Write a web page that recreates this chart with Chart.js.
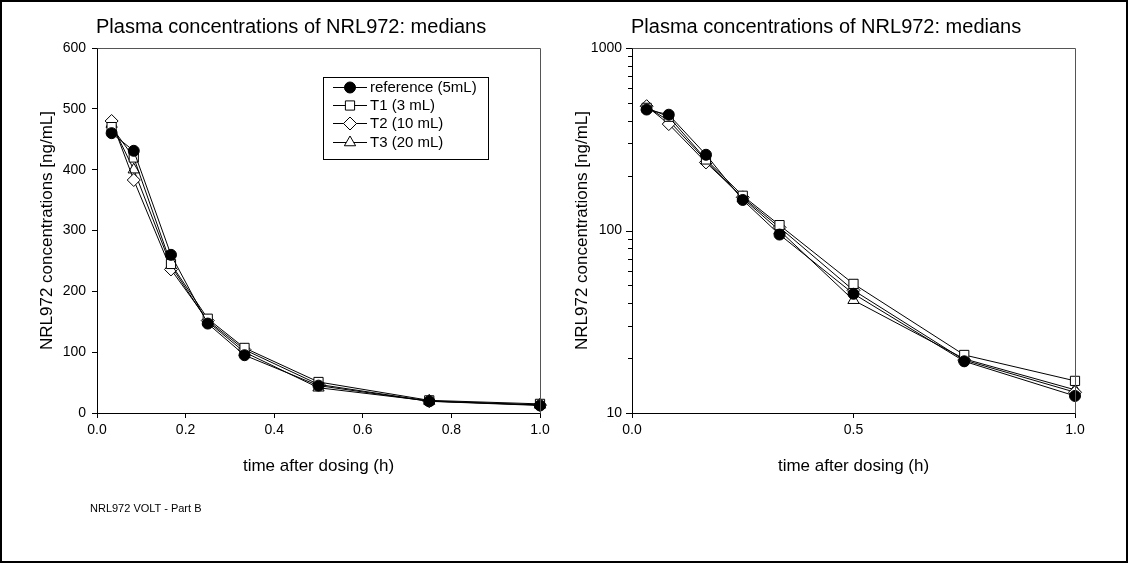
<!DOCTYPE html>
<html>
<head>
<meta charset="utf-8">
<script src="https://cdn.jsdelivr.net/npm/chart.js@4.4.1/dist/chart.umd.min.js"></script>
<style>
  html, body { margin:0; padding:0; background:#fff; }
  #wrap { position:relative; width:1128px; height:563px; overflow:hidden; background:#fff; }
  canvas { position:absolute; top:0; }
  #c1 { left:0; }
  #c2 { left:564px; }
  #frame { position:absolute; left:0; top:0; width:1128px; height:563px; box-sizing:border-box; border:2px solid #000; pointer-events:none; }
  #note { position:absolute; left:90px; top:502px; font:11px "Liberation Sans", Arial, sans-serif; color:#000; line-height:13px; white-space:nowrap; }
</style>
</head>
<body>
<div id="wrap">
  <canvas id="c1" width="564" height="563"></canvas>
  <canvas id="c2" width="564" height="563"></canvas>
  <div id="note">NRL972 VOLT - Part B</div>
  <div id="frame"></div>
</div>
<script>
// ---- data ----
const chartTitle = "Plasma concentrations of NRL972: medians";
const xTitle = "time after dosing (h)";
const yTitle = "NRL972 concentrations [ng/mL]";
const times = [0.033, 0.083, 0.167, 0.25, 0.333, 0.5, 0.75, 1.0];
const seriesNames = ["reference (5mL)", "T1 (3 mL)", "T2 (10 mL)", "T3 (20 mL)"];
const refValues = [460, 431, 260, 147, 95, 45, 19.2, 12.4];
const t1Values  = [470, 420, 245, 155, 107, 51, 20.8, 15.0];
const t2Values  = [480, 383, 236, 152, 104, 47, 19.5, 13.0];
const t3Values  = [475, 400, 242, 150, 100, 41.5, 19.8, 13.4];
const linearYTicks = [0, 100, 200, 300, 400, 500, 600];
const linearXTicks = [0, 0.2, 0.4, 0.6, 0.8, 1.0];
const logXTicks = [0, 0.5, 1.0];
const logYMajor = [10, 100, 1000];
const logYMinor = [20, 30, 40, 50, 60, 70, 80, 90, 200, 300, 400, 500, 600, 700, 800, 900];

const FONT = '"Liberation Sans", Arial, sans-serif';
const markerStyles = [
  { pointStyle: 'circle', radius: 5.5, bg: '#000' },
  { pointStyle: 'rect', radius: 6.5, bg: '#fff' },
  { pointStyle: 'rectRot', radius: 6.5, bg: '#fff' },
  { pointStyle: 'triangle', radius: 6.5, bg: '#fff' }
];
const allValues = [refValues, t1Values, t2Values, t3Values];

function buildDatasets() {
  return allValues.map((vals, i) => ({
    label: seriesNames[i],
    data: times.map((t, k) => ({ x: t, y: vals[k] })),
    borderColor: '#000',
    borderWidth: 1,
    backgroundColor: markerStyles[i].bg,
    pointStyle: markerStyles[i].pointStyle,
    pointRadius: markerStyles[i].radius,
    pointBorderColor: '#000',
    pointBackgroundColor: markerStyles[i].bg,
    pointBorderWidth: 1,
    tension: 0,
    fill: false,
    clip: false
  }));
}

const decorPlugin = {
  id: 'decor',
  afterDraw(chart, args, opts) {
    const ctx = chart.ctx, a = chart.chartArea;
    ctx.save();
    // frame top/right
    ctx.strokeStyle = '#555';
    ctx.lineWidth = 1;
    ctx.beginPath();
    ctx.moveTo(Math.round(a.left) + 0.5, Math.round(a.top) + 0.5);
    ctx.lineTo(Math.round(a.right) + 0.5, Math.round(a.top) + 0.5);
    ctx.lineTo(Math.round(a.right) + 0.5, Math.round(a.bottom) + 0.5);
    ctx.stroke();
    // title
    ctx.fillStyle = '#000';
    ctx.font = '20px ' + FONT;
    ctx.textAlign = 'left';
    ctx.textBaseline = 'middle';
    ctx.fillText(chartTitle, a.left - 1, 27);
    // axis titles
    ctx.font = '17px ' + FONT;
    ctx.textAlign = 'center';
    ctx.fillText(xTitle, (a.left + a.right) / 2, 466);
    ctx.save();
    ctx.translate(a.left - opts.yTitleOffset, (a.top + a.bottom) / 2);
    ctx.rotate(-Math.PI / 2);
    ctx.fillText(yTitle, 0, 0);
    ctx.restore();
    // log minor/major ticks
    if (opts.logTicks) {
      const ys = chart.scales.y;
      ctx.strokeStyle = '#000';
      ctx.beginPath();
      logYMajor.forEach(v => {
        const py = Math.round(ys.getPixelForValue(v)) + 0.5;
        ctx.moveTo(a.left - 6, py); ctx.lineTo(a.left, py);
      });
      logYMinor.forEach(v => {
        const py = Math.round(ys.getPixelForValue(v)) + 0.5;
        ctx.moveTo(a.left - 4, py); ctx.lineTo(a.left, py);
      });
      ctx.stroke();
    }
    // legend
    if (opts.legend) {
      const bx = 323.5, by = 77.5, bw = 165, bh = 82;
      ctx.strokeStyle = '#000';
      ctx.lineWidth = 1;
      ctx.strokeRect(bx, by, bw, bh);
      const rows = [87, 105, 123, 142];
      ctx.font = '15px ' + FONT;
      ctx.textAlign = 'left';
      ctx.textBaseline = 'middle';
      chart.data.datasets.forEach((ds, i) => {
        const y = rows[i];
        ctx.beginPath();
        ctx.moveTo(333, y + 0.5); ctx.lineTo(367, y + 0.5);
        ctx.strokeStyle = '#000';
        ctx.stroke();
        ctx.fillStyle = ds.pointBackgroundColor;
        ctx.strokeStyle = '#000';
        ctx.lineWidth = 1;
        Chart.helpers.drawPoint(ctx, { pointStyle: ds.pointStyle, radius: ds.pointRadius, rotation: 0, borderWidth: 1 }, 350, y + 0.5);
        ctx.fillStyle = '#000';
        ctx.fillText(ds.label, 370, y + 1);
      });
    }
    ctx.restore();
  }
};

function axisCommon() {
  return {
    grid: { display: true, drawOnChartArea: false, drawTicks: true, tickLength: 5, color: '#000', lineWidth: 1 },
    border: { display: true, color: '#000', width: 1 },
    ticks: { color: '#000', font: { family: FONT, size: 14 }, autoSkip: false, maxRotation: 0 }
  };
}

// Left: linear
(function () {
  const x = axisCommon();
  x.type = 'linear'; x.min = 0; x.max = 1;
  x.ticks.padding = 4;
  x.ticks.callback = v => Number(v).toFixed(1);
  x.afterBuildTicks = s => { s.ticks = linearXTicks.map(v => ({ value: v })); };
  x.afterFit = s => { s.height = 150; };
  const y = axisCommon();
  y.type = 'linear'; y.min = 0; y.max = 600;
  y.ticks.padding = 6;
  y.ticks.callback = v => String(v);
  y.afterBuildTicks = s => { s.ticks = linearYTicks.map(v => ({ value: v })); };
  y.afterFit = s => { s.width = 97; };
  new Chart(document.getElementById('c1'), {
    type: 'line',
    data: { datasets: buildDatasets() },
    options: {
      responsive: false, animation: false, devicePixelRatio: 1,
      layout: { padding: { left: 0, right: 24, top: 48, bottom: 0 } },
      plugins: { legend: { display: false }, tooltip: { enabled: false }, title: { display: false }, decor: { legend: true, logTicks: false, yTitleOffset: 50 } },
      scales: { x: x, y: y }
    },
    plugins: [decorPlugin]
  });
})();

// Right: logarithmic
(function () {
  const x = axisCommon();
  x.type = 'linear'; x.min = 0; x.max = 1;
  x.ticks.padding = 4;
  x.ticks.callback = v => Number(v).toFixed(1);
  x.afterBuildTicks = s => { s.ticks = logXTicks.map(v => ({ value: v })); };
  x.afterFit = s => { s.height = 150; };
  const y = axisCommon();
  y.type = 'logarithmic'; y.min = 10; y.max = 1000;
  y.grid.drawTicks = false;
  y.ticks.padding = 10;
  y.ticks.callback = v => String(v);
  y.afterBuildTicks = s => { s.ticks = logYMajor.map(v => ({ value: v })); };
  y.afterFit = s => { s.width = 68; };
  new Chart(document.getElementById('c2'), {
    type: 'line',
    data: { datasets: buildDatasets() },
    options: {
      responsive: false, animation: false, devicePixelRatio: 1,
      layout: { padding: { left: 0, right: 53, top: 48, bottom: 0 } },
      plugins: { legend: { display: false }, tooltip: { enabled: false }, title: { display: false }, decor: { legend: false, logTicks: true, yTitleOffset: 50 } },
      scales: { x: x, y: y }
    },
    plugins: [decorPlugin]
  });
})();
</script>
</body>
</html>
